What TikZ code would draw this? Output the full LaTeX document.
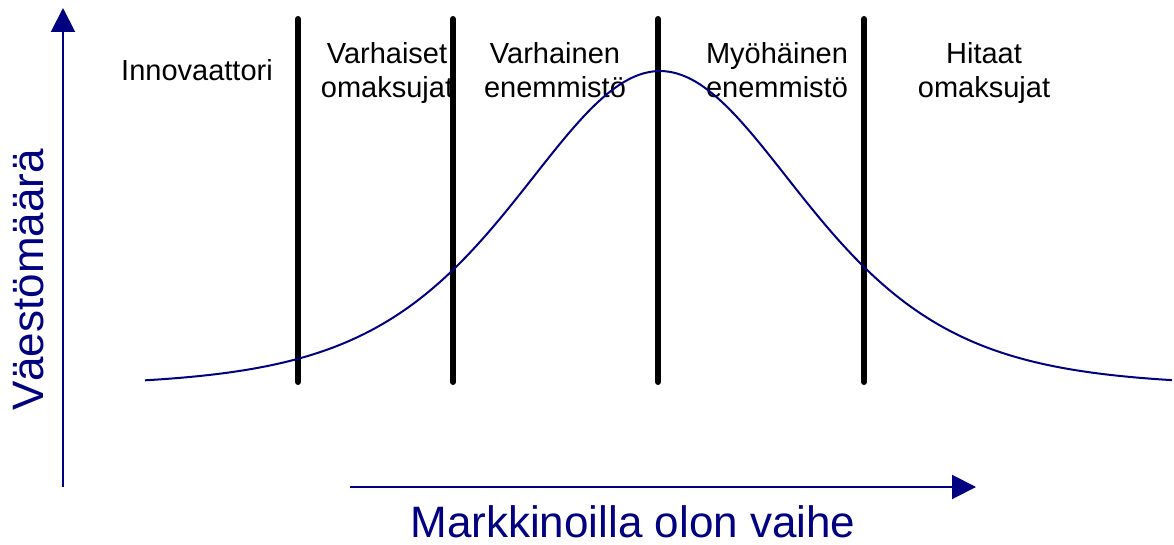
\documentclass[tikz,border=0pt]{standalone}
\usepackage{fontspec}
\setmainfont{Liberation Sans}
\usetikzlibrary{arrows.meta}
\definecolor{axisblue}{RGB}{0,0,128}
\begin{document}
\begin{tikzpicture}[x=1pt,y=-1pt,
  axis/.style={draw=axisblue, line width=2pt, -{Triangle[length=24pt,width=24pt]}},
  divider/.style={line width=6pt, line cap=round},
  lbl/.style={font=\fontsize{29}{34}\selectfont, align=center, anchor=base, inner sep=0pt},
  axlbl/.style={font=\fontsize{44}{50}\selectfont, text=axisblue, inner sep=0pt},
  bell/.style={draw=axisblue, line width=2pt}]
\useasboundingbox (0,0) rectangle (1174,545);
% axes
\coordinate (ya0) at (63,487);
\coordinate (ya1) at (63,8);
\coordinate (xa0) at (350,487);
\coordinate (xa1) at (976,487);
\draw[axis] (ya0) -- (ya1);
\draw[axis] (xa0) -- (xa1);
\node[axlbl, rotate=90] (ylab) at (29,280) {Väestömäärä};
\node[axlbl, anchor=base] (xlab) at (633,537) {Markkinoilla olon vaihe};
% dividers
\foreach \n/\x in {d1/298, d2/453, d3/658, d4/864}{
  \coordinate (\n t) at (\x,19);
  \coordinate (\n b) at (\x,382);
  \draw[divider] (\n t) -- (\n b);
}
% labels
\node[lbl] (l1) at (197,81) {Innovaattori};
\node[lbl] (l2) at (387,98) {Varhaiset\\omaksujat};
\node[lbl] (l3) at (555,98) {Varhainen\\enemmistö};
\node[lbl] (l4) at (777,98) {Myöhäinen\\enemmistö};
\node[lbl] (l5) at (984,98) {Hitaat\\omaksujat};
% curve
\draw[bell] plot[domain=145:1172, samples=240, smooth] (\x, {386 - 315/((cosh((\x-660)/191))^2)});
\end{tikzpicture}
\end{document}
